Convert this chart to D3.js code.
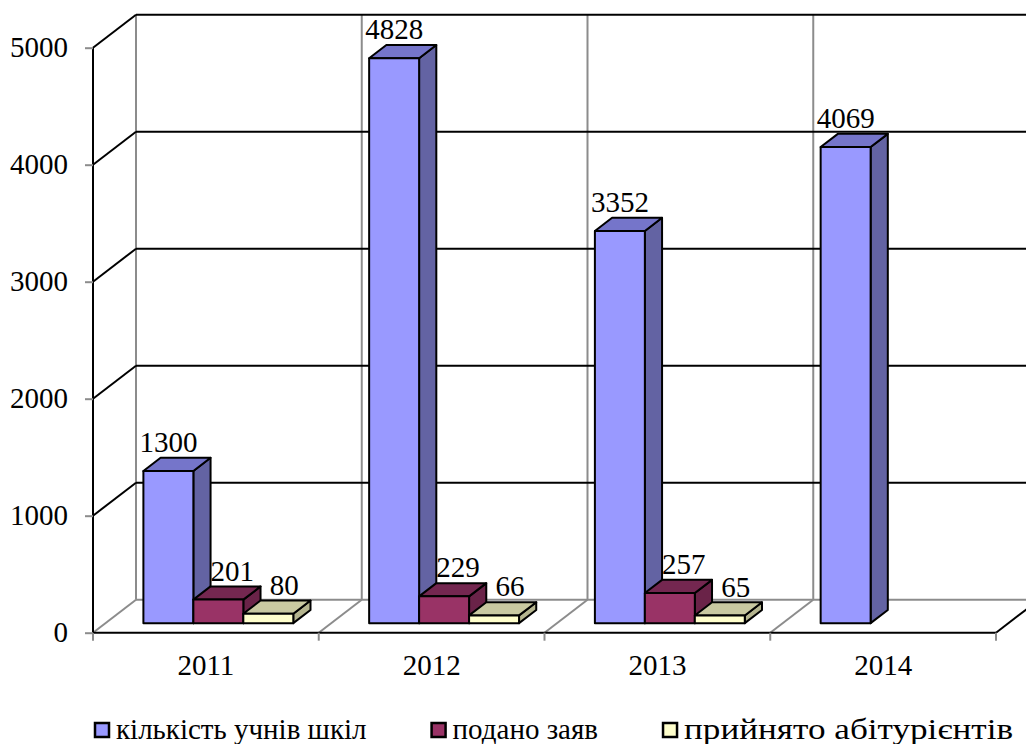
<!DOCTYPE html>
<html>
<head>
<meta charset="utf-8">
<script src="https://cdn.jsdelivr.net/npm/d3@7"></script>
<style>
  html, body { margin: 0; padding: 0; background: #fff; }
  svg { display: block; }
  svg text { font-family: 'Liberation Serif', 'DejaVu Serif', serif; fill: #000; }
</style>
</head>
<body>
<svg id="chart" width="1026" height="744"></svg>
<script>
// Data
const years = ["2011", "2012", "2013", "2014"];
const seriesNames = ["кількість учнів шкіл", "подано заяв", "прийнято абітурієнтів"];
const pupils = [1300, 4828, 3352, 4069];
const applications = [201, 229, 257, null];
const admitted = [80, 66, 65, null];
const yTicks = [0, 1000, 2000, 3000, 4000, 5000];

// Colours per series: front, top, side
const fronts = ["#9999FF", "#993366", "#FFFFCC"];
const tops = ["#7575CA", "#742750", "#C9C9A1"];
const sides = ["#6363A3", "#6A2348", "#B5B58F"];

const seriesValues = [pupils, applications, admitted];
const FONT = "'Liberation Serif', 'DejaVu Serif', serif";
const FS = 29;

const svg = d3.select("#chart");

// Plot frame: front plane and depth vector of the oblique 3D box
const left = 93, right = 996;
const depth = { dx: 43, dy: -33 };
const barDepth0 = 0.29, barDepth1 = 0.69;

const y = d3.scaleLinear().domain([0, 5000]).range([632.7, 47.7]);
const x = d3.scaleBand().domain(years).range([left, right]).padding(0);
const bw = x.bandwidth();
const xs = d3.scaleBand().domain(d3.range(seriesNames.length))
  .range([bw * 0.168, bw * 0.832]).padding(0);

const backX = v => v + depth.dx;
const backY = v => v + depth.dy;

const grid = svg.append("g");

// Floor
grid.append("line")
  .attr("x1", backX(left)).attr("x2", backX(right)).attr("y1", backY(y(0))).attr("y2", backY(y(0)))
  .attr("stroke", "#8c8c8c").attr("stroke-width", 2);

// Back-wall vertical lines at category boundaries
const bounds = years.map(d => x(d)).concat([right]);
grid.selectAll(".vline").data(bounds).join("line")
  .attr("x1", d => backX(d)).attr("x2", d => backX(d))
  .attr("y1", backY(y(5000))).attr("y2", backY(y(0)))
  .attr("stroke", "#8c8c8c").attr("stroke-width", 2);

// Floor diagonals at category boundaries
grid.selectAll(".fdiag").data(bounds).join("line")
  .attr("x1", d => d).attr("y1", y(0))
  .attr("x2", d => backX(d)).attr("y2", backY(y(0)))
  .attr("stroke", (d, i) => i === bounds.length - 1 ? "#000" : "#8c8c8c")
  .attr("stroke-width", 2);

// Horizontal gridlines on back wall and side wall
const gridTicks = yTicks.filter(t => t > 0);
grid.selectAll(".hline").data(gridTicks).join("line")
  .attr("x1", backX(left)).attr("x2", backX(right))
  .attr("y1", d => backY(y(d))).attr("y2", d => backY(y(d)))
  .attr("stroke", "#000").attr("stroke-width", 2);
grid.selectAll(".sline").data(gridTicks).join("line")
  .attr("x1", left).attr("y1", d => y(d))
  .attr("x2", backX(left)).attr("y2", d => backY(y(d)))
  .attr("stroke", "#000").attr("stroke-width", 2);

// Front floor edge
grid.append("line")
  .attr("x1", left).attr("x2", right).attr("y1", y(0)).attr("y2", y(0))
  .attr("stroke", "#000").attr("stroke-width", 2);

// Category ticks below the floor edge
grid.selectAll(".ctick").data(bounds).join("line")
  .attr("x1", d => d).attr("x2", d => d)
  .attr("y1", y(0)).attr("y2", y(0) + 8)
  .attr("stroke", "#8c8c8c").attr("stroke-width", 2);

// Value axis
const yAxis = d3.axisLeft(y).tickValues(yTicks).tickSize(8).tickPadding(17).tickFormat(d3.format("d"));
const ag = svg.append("g").attr("transform", `translate(${left},0)`).call(yAxis)
  .attr("font-family", FONT).attr("font-size", FS);
ag.select(".domain").attr("stroke", "#000").attr("stroke-width", 2).attr("d", `M0,${y(5000)}V${y(0)}`);
ag.selectAll(".tick line").attr("stroke", "#8c8c8c").attr("stroke-width", 2);
ag.selectAll(".tick text").attr("fill", "#000");

// Category labels
svg.append("g").attr("font-family", FONT).selectAll("text").data(years).join("text")
  .attr("x", d => x(d) + bw / 2).attr("y", 675)
  .attr("text-anchor", "middle").attr("font-size", FS).text(d => d);

// 3D bars
const bars = svg.append("g");
const labels = svg.append("g").attr("font-family", FONT);
const fx = barDepth0 * depth.dx, fy = barDepth0 * depth.dy;
const ddx = (barDepth1 - barDepth0) * depth.dx, ddy = (barDepth1 - barDepth0) * depth.dy;
const labelShift = [0, 14, 16];

years.forEach((yr, ci) => {
  seriesValues.forEach((vals, si) => {
    const v = vals[ci];
    if (v == null) return;
    const x0 = x(yr) + xs(si) + fx, x1 = x0 + xs.bandwidth();
    const yb = y(0) + fy, yt = y(v) + fy;
    const g = bars.append("g").attr("stroke", "#000").attr("stroke-width", 2).attr("stroke-linejoin", "round");
    // side face
    g.append("path").attr("fill", sides[si])
      .attr("d", `M${x1},${yb}L${x1 + ddx},${yb + ddy}L${x1 + ddx},${yt + ddy}L${x1},${yt}Z`);
    // top face
    g.append("path").attr("fill", tops[si])
      .attr("d", `M${x0},${yt}L${x1},${yt}L${x1 + ddx},${yt + ddy}L${x0 + ddx},${yt + ddy}Z`);
    // front face
    g.append("path").attr("fill", fronts[si])
      .attr("d", `M${x0},${yb}L${x1},${yb}L${x1},${yt}L${x0},${yt}Z`);
    // value label
    labels.append("text")
      .attr("x", (x0 + x1) / 2 + labelShift[si]).attr("y", yt - 19)
      .attr("text-anchor", "middle").attr("font-size", FS).text(v);
  });
});

// Legend: entries packed left to right with a fixed gap
const lg = svg.append("g").attr("font-family", FONT);
let lx = 95;
seriesNames.forEach((name, i) => {
  lg.append("rect").attr("x", lx).attr("y", 723).attr("width", 14).attr("height", 14)
    .attr("fill", fronts[i]).attr("stroke", "#000").attr("stroke-width", 2.5);
  const t = lg.append("text").attr("x", lx + 21).attr("y", 739).attr("font-size", FS).text(name);
  if (i === 2) t.attr("textLength", 329).attr("lengthAdjust", "spacingAndGlyphs");
  const w = t.node().getComputedTextLength();
  lx = lx + 21 + (i === 2 ? 329 : w) + 65;
});
</script>
</body>
</html>
